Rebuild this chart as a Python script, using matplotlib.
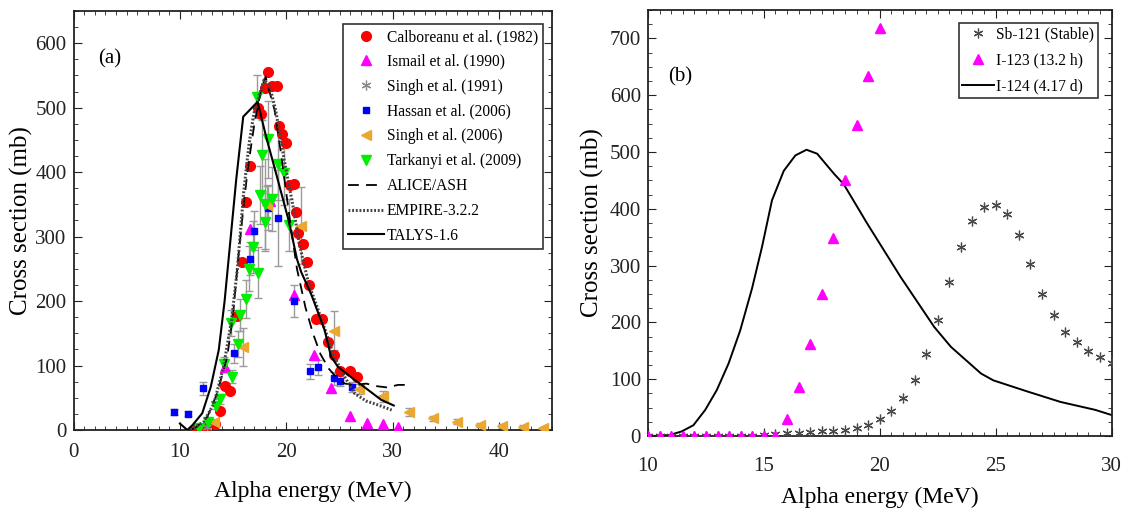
import numpy as np
import matplotlib.pyplot as plt
from matplotlib.ticker import MultipleLocator

plt.rcParams['font.family'] = ['Liberation Serif', 'DejaVu Serif']

# ---------------- panel (a) data ----------------
calb_x = [11.6, 12.4, 13.3, 13.8, 14.2, 14.7, 15.4, 15.8, 16.2, 16.6, 17.3, 17.6, 18.0, 18.3, 18.7,
          19.1, 19.3, 19.6, 20.0, 20.3, 20.7, 20.9, 21.1, 21.6, 21.9, 22.1, 22.8, 23.35, 23.9, 24.5,
          25.0, 26.0, 26.6]
calb_y = [3, 3, 9, 29, 69, 60, 177, 260, 353, 410, 499, 490, 531, 556, 533,
          533, 472, 459, 445, 380, 381, 338, 306, 288, 260, 225, 172, 172, 136, 116,
          92, 91, 83]

ism_x = [14.2, 16.6, 18.5, 20.7, 22.6, 24.2, 26.0, 27.6, 29.1, 30.5]
ism_y = [98, 311, 355, 209, 116, 65, 21, 11, 9, 5]

singh91_x = [12.5, 18.4]
singh91_y = [5, 352]

hass_x = [9.4, 10.8, 12.2, 15.1, 16.6, 17.0, 18.3, 19.2, 20.7, 22.2, 23.0, 24.5, 25.0, 26.2]
hass_y = [28, 25, 65, 119, 266, 309, 345, 329, 200, 91, 97, 80, 76, 67]
hass_err = [4, 4, 10, 15, 25, 30, 35, 75, 25, 12, 12, 10, 8, 8]

singh06_x = [13.2, 15.9, 18.2, 21.4, 24.5, 26.8, 29.1, 31.5, 33.8, 36.0, 38.2, 40.25, 42.2, 44.1]
singh06_y = [12, 129, 349, 317, 154, 64, 52, 28, 18, 13, 8, 6, 5, 3]
singh06_err = [4, 29, 30, 60, 30, 8, 9, 6, 4, 4, 3, 3, 3, 2]

tark_x = [11.8, 12.65, 13.35, 13.8, 14.15, 14.8, 14.9, 15.5, 15.65, 16.2, 16.5, 16.9, 17.2, 17.3,
          17.5, 17.7, 18.0, 18.0, 18.3, 18.7, 19.25, 19.75, 20.25]
tark_y = [3, 12, 38, 48, 102, 166, 83, 134, 178, 203, 250, 284, 517, 244,
          365, 426, 350, 323, 451, 358, 412, 399, 318]
tark_err = [2, 4, 6, 8, 12, 20, 10, 20, 25, 30, 35, 40, 33, 40,
            45, 55, 70, 45, 60, 50, 55, 50, 40]

alice_x = [11.0, 11.6, 12.6, 13.5, 14.45, 15.0, 15.5, 16.0, 16.4, 17.0, 17.6, 18.05, 18.5, 18.9,
           19.5, 20.3, 21.0, 21.8, 22.5, 23.2, 24.0, 24.8, 25.5, 26.5, 27.5, 28.5, 29.5, 30.5, 31.5]
alice_y = [0, 5, 21, 57, 114, 180, 270, 350, 408, 475, 525, 548, 520, 496,
           429, 330, 250, 190, 150, 118, 95, 80, 72, 70, 72, 68, 66, 70, 70]

empire_x = [11.0, 12.25, 13.2, 14.1, 14.85, 15.4, 16.0, 16.5, 16.95, 17.9, 18.4, 19.0, 19.8, 20.7,
            21.2, 22.1, 23.0, 24.5, 25.4, 26.4, 27.5, 28.6, 29.9]
empire_y = [0, 13, 41, 98, 170, 250, 370, 444, 491, 543, 535, 496, 419, 341,
            290, 227, 186, 114, 85, 57, 45, 39, 31]

talys_x = [10.0, 10.7, 11.2, 12.1, 12.9, 13.65, 14.2, 14.75, 15.3, 15.95, 16.6, 17.3, 18.1, 19.2,
           20.2, 20.55, 21.0, 21.4, 22.35, 23.6, 24.2, 24.85, 26.4, 27.3, 28.9, 30.1]
talys_y = [10, 0, 8, 26, 67, 124, 200, 295, 390, 486, 497, 509, 455, 388,
           326, 300, 265, 245, 210, 155, 114, 98, 78, 67, 47, 38]

# ---------------- panel (b) data ----------------
e_b = [10.0, 10.5, 11.0, 11.5, 12.0, 12.5, 13.0, 13.5, 14.0, 14.5, 15.0, 15.5, 16.0, 16.5, 17.0,
       17.5, 18.0, 18.5, 19.0, 19.5, 20.0, 20.5, 21.0, 21.5, 22.0, 22.5, 23.0, 23.5, 24.0, 24.5,
       25.0, 25.5, 26.0, 26.5, 27.0, 27.5, 28.0, 28.5, 29.0, 29.5, 30.0]
sb121 = [0, 0, 0, 0, 0, 0, 0, 0, 0, 0, 2, 3, 6, 6, 7,
         8, 9, 11, 14, 20, 30, 44, 67, 98, 144, 205, 271, 333, 378, 404,
         407, 390, 354, 302, 250, 213, 183, 165, 149, 139, 128]

e_i123 = [10.0, 10.5, 11.0, 11.5, 12.0, 12.5, 13.0, 13.5, 14.0, 14.5, 15.0, 15.5, 16.0, 16.5, 17.0,
          17.5, 18.0, 18.5, 19.0, 19.5, 20.0]
i123 = [0, 0, 0, 0, 0, 0, 0, 0, 0, 0, 0, 0, 30, 86, 162,
        250, 349, 451, 547, 634, 719]

e_i124 = [10.0, 10.5, 10.95, 11.45, 11.96, 12.47, 12.97, 13.48, 13.98, 14.49, 14.92, 15.35, 15.86,
          16.36, 16.84, 17.3, 18.02, 18.45, 19.46, 20.9, 22.35, 23.07, 24.37, 24.9, 26.4, 27.8,
          29.3, 30.0]
i124 = [0, 0.5, 2, 8, 19, 46, 81, 128, 186, 260, 333, 415, 467,
        494, 504, 497, 462, 443, 374, 280, 192, 157, 110, 98, 78, 60,
        46, 37]

fig = plt.figure(figsize=(11.24, 5.08), dpi=100)
ax1 = fig.add_axes([0.0654, 0.1535, 0.426, 0.825])
ax2 = fig.add_axes([0.5765, 0.1417, 0.4124, 0.8386])

asterisk = (6, 2, 0)
ecol = '#9a9a9a'
ax1.errorbar(tark_x, tark_y, yerr=tark_err, fmt='none', ecolor=ecol, elinewidth=1, capsize=3, zorder=2)
ax1.errorbar(hass_x, hass_y, yerr=hass_err, fmt='none', ecolor=ecol, elinewidth=1, capsize=3, zorder=2)
ax1.errorbar(singh06_x, singh06_y, yerr=singh06_err, fmt='none', ecolor=ecol, elinewidth=1, capsize=3, zorder=2)

ax1.plot(calb_x, calb_y, 'o', color='#ff0000', ms=7, ls='none', label='Calboreanu et al. (1982)', zorder=3)
ax1.plot(ism_x, ism_y, '^', color='#ff00ff', ms=7, ls='none', label='Ismail et al. (1990)', zorder=3)
ax1.plot(singh91_x, singh91_y, marker=asterisk, color='#8a8a8a', ms=7, mew=0.9, ls='none',
         label='Singh et al. (1991)', zorder=3)
ax1.plot(hass_x, hass_y, 's', color='#0000ff', ms=5, ls='none', label='Hassan et al. (2006)', zorder=3)
ax1.plot(singh06_x, singh06_y, '<', color='#eba830', ms=7, ls='none', label='Singh et al. (2006)', zorder=3)
ax1.plot(tark_x, tark_y, 'v', color='#00ee00', ms=7, ls='none', label='Tarkanyi et al. (2009)', zorder=3)
ax1.plot(alice_x, alice_y, '--', color='black', lw=1.3, dashes=(6, 4), label='ALICE/ASH', zorder=4)
ax1.plot(empire_x, empire_y, ':', color='#444444', lw=2.2, dashes=(0.6, 0.6), label='EMPIRE-3.2.2', zorder=4)
ax1.plot(talys_x, talys_y, '-', color='black', lw=1.5, label='TALYS-1.6', zorder=4)

ax1.set_xlim(0, 45)
ax1.set_ylim(0, 650)
ax1.xaxis.set_major_locator(MultipleLocator(10))
ax1.xaxis.set_minor_locator(MultipleLocator(1))
ax1.yaxis.set_major_locator(MultipleLocator(100))
ax1.yaxis.set_minor_locator(MultipleLocator(25))
ax1.set_xlabel('Alpha energy (MeV)', fontsize=17, labelpad=14)
ax1.set_ylabel('Cross section (mb)', fontsize=18, labelpad=2)
ax1.text(2.3, 568, '(a)', fontsize=15)
leg1 = ax1.legend(loc='upper right', bbox_to_anchor=(0.98, 0.968), fontsize=11.2, frameon=True,
                  fancybox=False, edgecolor='black', labelspacing=0.57, handlelength=2.3,
                  handletextpad=0.2, borderpad=0.3, borderaxespad=0.0)
leg1.get_frame().set_linewidth(1.2)

ax2.plot(e_b, sb121, marker=asterisk, color='#4a4a4a', ms=7, mew=0.9, ls='none',
         label='Sb-121 (Stable)', zorder=3)
ax2.plot(e_i123, i123, '^', color='#ff00ff', ms=7, ls='none', label='I-123 (13.2 h)', zorder=3)
ax2.plot(e_i124, i124, '-', color='black', lw=1.4, label='I-124 (4.17 d)', zorder=2)
ax2.set_xlim(10, 30)
ax2.set_ylim(0, 750)
ax2.xaxis.set_major_locator(MultipleLocator(5))
ax2.xaxis.set_minor_locator(MultipleLocator(0.5))
ax2.yaxis.set_major_locator(MultipleLocator(100))
ax2.yaxis.set_minor_locator(MultipleLocator(25))
ax2.set_xlabel('Alpha energy (MeV)', fontsize=17, labelpad=8)
ax2.set_ylabel('Cross section (mb)', fontsize=18, labelpad=4)
ax2.text(10.85, 625, '(b)', fontsize=15)
leg2 = ax2.legend(loc='upper right', bbox_to_anchor=(0.97, 0.97), fontsize=11.2, frameon=True,
                  fancybox=False, edgecolor='black', labelspacing=0.62, handlelength=2.0,
                  handletextpad=0.15, borderpad=0.25, borderaxespad=0.0)
leg2.get_frame().set_linewidth(1.2)

for ax, xpad in ((ax1, 9), (ax2, 15)):
    ax.tick_params(which='both', direction='in', top=True, right=True, labelsize=15, colors='#222222')
    ax.tick_params(which='major', length=6)
    ax.tick_params(which='minor', length=3)
    ax.tick_params(axis='x', which='major', pad=xpad)
    ax.tick_params(axis='y', which='major', pad=5)
    for sp in ax.spines.values():
        sp.set_linewidth(1.3)
        sp.set_color('#222222')

fig.savefig('out.png', dpi=100)
